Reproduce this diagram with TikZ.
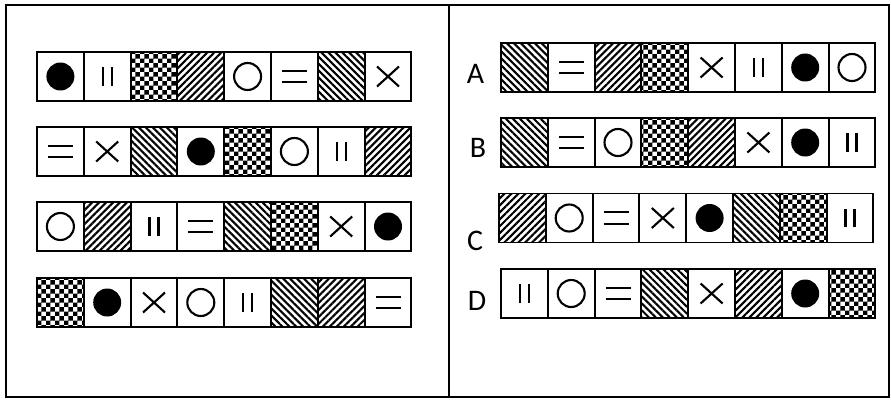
\documentclass[tikz,border=0pt]{standalone}
\usepackage{fontspec}
\setmainfont{Carlito}
\usepackage{tikz}
\usetikzlibrary{patterns,patterns.meta}
\pgfdeclarepatternformonly{damero}{\pgfpointorigin}{\pgfpoint{0.188cm}{0.188cm}}{\pgfpoint{0.188cm}{0.188cm}}{
  \pgfpathrectangle{\pgfpointorigin}{\pgfpoint{0.094cm}{0.094cm}}
  \pgfpathrectangle{\pgfpoint{0.094cm}{0.094cm}}{\pgfpoint{0.094cm}{0.094cm}}
  \pgfusepath{fill}}

\begin{document}
\begin{tikzpicture}[x=0.02cm,y=-0.02cm,
  celda/.style={draw,line width=1.1pt,minimum width=0.936cm,minimum height=0.98cm,inner sep=0pt,outer sep=0pt},
  trazo/.style={line width=1.2pt},
  bola/.style={path picture={\fill (path picture bounding box.center) circle (0.28cm);}},
  aro/.style={path picture={\draw[trazo] (path picture bounding box.center) circle (0.27cm);}},
  barras/.style={path picture={\draw[trazo] ([shift={(-0.09cm,-0.185cm)}]path picture bounding box.center) -- ++(0,0.37cm)
      ([shift={(0.09cm,-0.185cm)}]path picture bounding box.center) -- ++(0,0.37cm);}},
  igual/.style={path picture={\draw[trazo] ([shift={(-0.25cm,-0.117cm)}]path picture bounding box.center) -- ++(0.5cm,0)
      ([shift={(-0.25cm,0.117cm)}]path picture bounding box.center) -- ++(0.5cm,0);}},
  cruz/.style={path picture={\draw[trazo] ([shift={(-0.22cm,-0.2cm)}]path picture bounding box.center) -- ++(0.44cm,0.4cm)
      ([shift={(-0.22cm,0.2cm)}]path picture bounding box.center) -- ++(0.44cm,-0.4cm);}},
  rayaD/.style={pattern={Lines[angle=45,distance=2.8pt,line width=1.2pt]}},
  rayaI/.style={pattern={Lines[angle=-45,distance=2.8pt,line width=1.2pt]}},
  damero/.style={pattern=damero},
  letra/.style={font=\fontsize{17}{20}\selectfont,inner sep=0pt}]
  \useasboundingbox (0,0) rectangle (891,399);
  \draw[line width=1.2pt] (6,5) rectangle (889,397);
  \draw[line width=1.2pt] (449,5) -- (449,397);
  % serie de la izquierda
  \foreach \fila/\yc [count=\j] in {{bola,barras,damero,rayaD,aro,igual,rayaI,cruz}/76.5,
      {igual,cruz,rayaI,bola,damero,aro,barras,rayaD}/151.5,
      {aro,rayaD,barras,igual,rayaI,damero,cruz,bola}/226.5,
      {damero,bola,cruz,aro,barras,rayaI,rayaD,igual}/302.5}
    \foreach \s [count=\i] in \fila
      \node[celda,\s] (izq-\j-\i) at (37+23.4+46.8*\i-46.8,\yc) {};
  % opciones
  \foreach \fila/\xo/\yc [count=\j] in {{rayaI,igual,rayaD,damero,cruz,barras,bola,aro}/501/67.5,
      {rayaI,igual,aro,damero,rayaD,cruz,bola,barras}/501/142.5,
      {rayaD,aro,igual,cruz,bola,rayaI,damero,barras}/499/218,
      {barras,aro,igual,rayaI,cruz,rayaD,bola,damero}/501/293.5}
    \foreach \s [count=\i] in \fila
      \node[celda,\s] (der-\j-\i) at (\xo+23.4+46.8*\i-46.8,\yc) {};
  \node[letra] (etqA) at (475.5,74) {A};
  \node[letra] (etqB) at (478,148) {B};
  \node[letra] (etqC) at (475,241) {C};
  \node[letra] (etqD) at (477,301) {D};
\end{tikzpicture}
\end{document}
